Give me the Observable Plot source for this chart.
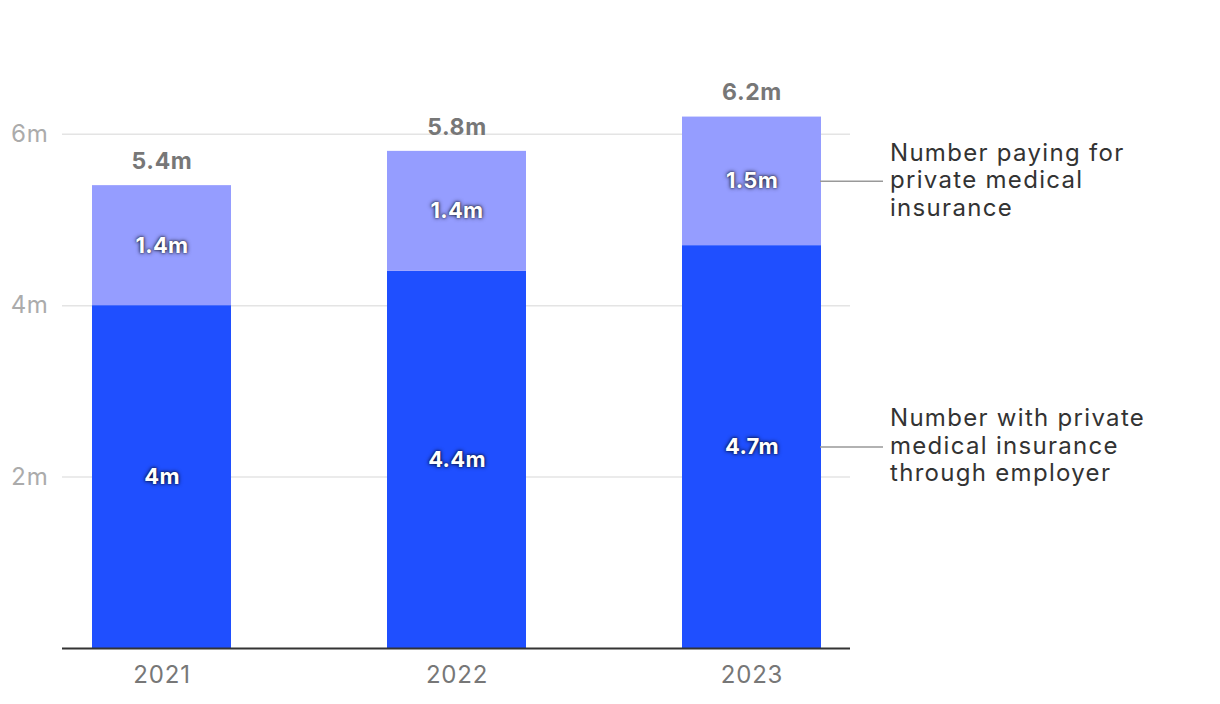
<!DOCTYPE html>
<html>
<head>
<meta charset="utf-8">
<script src="https://cdn.jsdelivr.net/npm/d3@7"></script>
<script src="https://cdn.jsdelivr.net/npm/@observablehq/plot@0.6"></script>
<style>
  html, body { margin: 0; padding: 0; background: #fff; }
  #chart svg { font-family: Inter, "Noto Sans", sans-serif; overflow: visible; }
  .inner text { text-shadow: 0 0 4px rgba(0,0,0,0.85), 0 0 2px rgba(0,0,0,0.6); letter-spacing: 0.3px; }
  .ann text { letter-spacing: 1.3px; }
  .tot text { letter-spacing: 0.6px; }
  .xax text { letter-spacing: 0.8px; }
  .yax text { letter-spacing: 0.6px; }
</style>
</head>
<body>
<div id="chart"></div>
<script>
const years = ["2021", "2022", "2023"];
const employer = [4, 4.4, 4.7];
const paying = [1.4, 1.4, 1.5];
const totals = [5.4, 5.8, 6.2];
const yTicks = [2, 4, 6];
const seriesNames = ["employer", "paying"];
const seriesColors = ["#1f4fff", "#959dff"];
const annotationText = [
  "Number with private\nmedical insurance\nthrough employer",
  "Number paying for\nprivate medical\ninsurance"
];

const fmt = d => d + "m";

const rows = [];
years.forEach((yr, i) => {
  rows.push({year: yr, series: "employer", value: employer[i], lo: 0, hi: employer[i]});
  rows.push({year: yr, series: "paying", value: paying[i], lo: employer[i], hi: employer[i] + paying[i]});
});
rows.forEach(r => r.mid = (r.lo + r.hi) / 2);
const totalRows = years.map((yr, i) => ({year: yr, total: totals[i]}));
const lastYear = years[years.length - 1];
const annRows = rows.filter(r => r.year === lastYear).map((r, k) => ({...r, label: annotationText[k]}));

const chart = Plot.plot({
  width: 1220,
  height: 704,
  marginLeft: 62,
  marginRight: 370,
  marginTop: 48,
  marginBottom: 56,
  x: {domain: years, paddingInner: 0.53, paddingOuter: 0.1, label: null},
  y: {domain: [0, 7], label: null},
  color: {domain: seriesNames, range: seriesColors},
  marks: [
    Plot.ruleY(yTicks, {stroke: "#e4e4e4", strokeWidth: 1.5}),
    Plot.rectY(rows, {x: "year", y1: "lo", y2: "hi", fill: "series"}),
    Plot.ruleY([0], {stroke: "#333", strokeWidth: 2}),
    Plot.axisY({ticks: yTicks, tickFormat: fmt, tickSize: 0, tickPadding: 14, fontSize: 24, color: "#ababab", label: null, className: "yax"}),
    Plot.axisX({tickSize: 0, tickPadding: 17, fontSize: 24, color: "#777", label: null, className: "xax"}),
    Plot.text(rows, {x: "year", y: "mid", text: d => fmt(d.value), fill: "white", fontSize: 22, fontWeight: "bold", className: "inner"}),
    Plot.text(totalRows, {x: "year", y: "total", text: d => fmt(d.total), dy: -24, fill: "#777", fontSize: 23, fontWeight: "bold", className: "tot"}),
    Plot.tickY(annRows, {x: "year", y: "mid", dx: 138, insetRight: 76, stroke: "#999", strokeWidth: 1.5}),
    Plot.text(annRows, {x: "year", y: "mid", text: "label", dx: 138, dy: -2, textAnchor: "start", lineAnchor: "middle", lineHeight: 1.15, fontSize: 24, fill: "#333", className: "ann"})
  ]
});
document.getElementById("chart").appendChild(chart);
</script>
</body>
</html>
